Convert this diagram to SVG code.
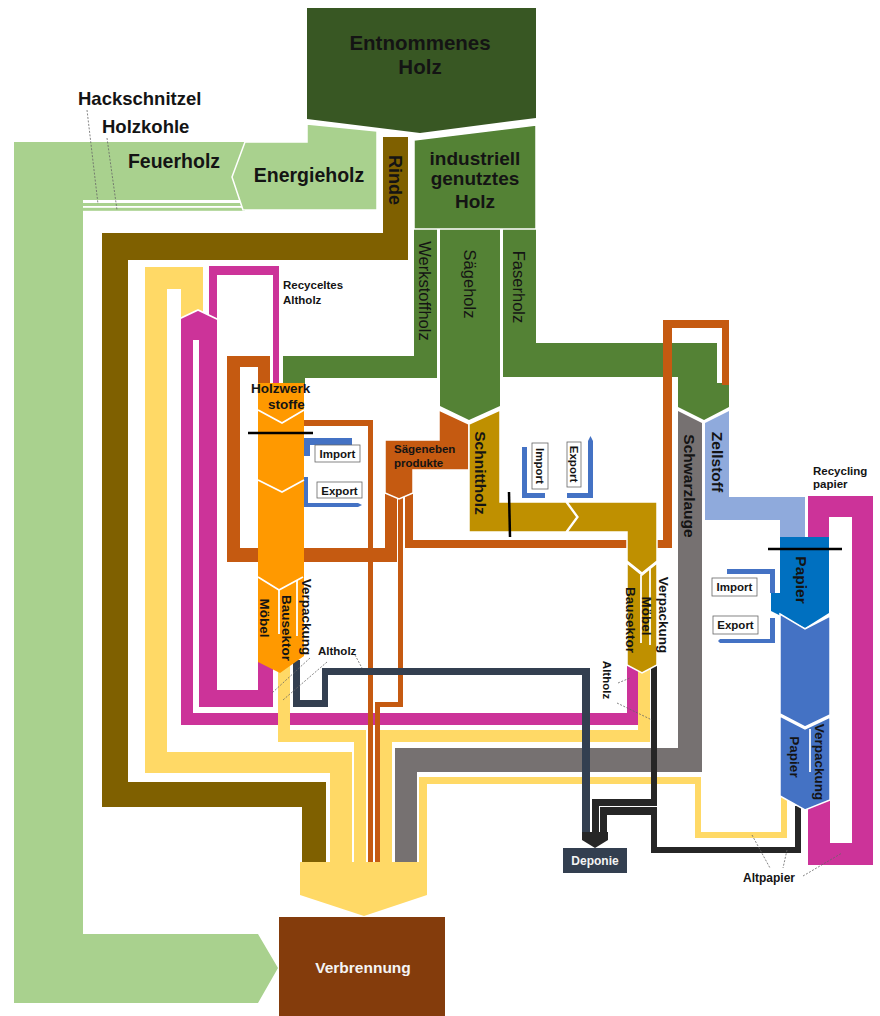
<svg xmlns="http://www.w3.org/2000/svg" width="880" height="1016" viewBox="0 0 880 1016">
<style>
text{font-family:"Liberation Sans",Arial,sans-serif;fill:#141414;font-weight:bold}
.r{font-weight:normal}
.wt{fill:#f4f4f4}
.ws{stroke:#fff;stroke-width:1.5}
.wl{fill:none;stroke:#fff;stroke-width:1.8}
.lead{fill:none;stroke:#666;stroke-width:0.8;stroke-dasharray:2 1.5}
.box{fill:#fff;stroke:#666;stroke-width:0.8}
.cut{stroke:#000;stroke-width:2.5}
.g1{fill:#a9d18e}.g2{fill:#548235}.g3{fill:#385723}
.br{fill:#7f6000}.or{fill:#c55a11}.ye{fill:#ffd966}.ma{fill:#cc3399}
.gr{fill:#767171}.zb{fill:#8faadc}.bl{fill:#4472c4}.nv{fill:#333f50}.bk{fill:#262626}
</style>
<rect width="880" height="1016" fill="#fff"/>

<g id="connectors">
  <path class="g1" d="M14,142 H250 V200 H83 V934 H258 L278,968 L258,1003 H14 Z"/>
  <rect class="g1" x="83" y="203" width="162" height="3"/>
  <rect class="g1" x="83" y="207.8" width="162" height="3"/>
  <path class="g2" d="M414,229 H437 V378 H305 V385 H283 V356 H414 Z"/>
  <path class="g2" d="M440,229 H500 V406 L469,420 L440,406 Z"/>
  <path class="g2" d="M503,229 H536 V343 H717 V383 H729 V407 L704,420 L678,407 V377 H503 Z"/>
  <path class="br" d="M383,137 H408 V260 H128 V782 H326 V864 H302 V807 H102 V233 H383 Z"/>
  <path class="gr" d="M678,411 L702,423 V772 H417 V864 H395 V748 H678 Z"/>
  <path class="zb" d="M705,423 L729,411 V497 H805 V538 H780 V520 H705 Z"/>
  <path class="ma" d="M181,330 H193 V713 H627 V660 H638 V725 H181 Z"/>
  <path class="ma" d="M199,330 H217 V690 H258 V660 H273 V707 H199 Z"/>
  <path class="ye" d="M145,267 H203 V318 H181 V289 H167 V752 H352 V864 H330 V773 H145 Z"/>
  <path class="ye" d="M278,660 H290 V730 H366 V864 H354 V742 H278 Z"/>
  <path class="ye" d="M638,660 H650 V742 H392 V864 H380 V730 H638 Z"/>
  <path class="ye" d="M781,795 H787 V838 H695 V784 H427 V864 H419 V777 H701 V832 H781 Z"/>
  <path class="ma" d="M209,266 H279 V385 H273 V275 H217 V318 H209 Z"/>
  <path class="ma" d="M181,318 L198,310 L217,319 V340 H181 Z"/>
  <polyline class="wl" points="180,318.5 198,310 218,319.5"/>
  <path class="or" d="M227,356 H270 V385 H258 V367 H240 V548 H385 V493 H397 V562 H227 Z"/>
  <path class="or" d="M398,493 H403 V707 H380 V864 H375 V702 H398 Z"/>
  <path class="or" d="M405,493 H413 V540 H663 V320 H729 V385 H722 V328 H672 V548 H405 Z"/>
  <path class="or" d="M300,420 H373 V864 H368 V426 H300 Z"/>
  <path class="nv" d="M293,660 H300 V700 H322 V668 H590 V834 H582 V675 H328 V707 H293 Z"/>
  <path class="bk" d="M651,665 H657 V806 H599 V834 H592 V799 H651 Z"/>
  <path class="bk" d="M795,806 H801 V853 H651 V815 H607 V834 H600 V807 H657 V847 H795 Z"/>
  <path class="ma" d="M808,496 H873 V865 H808 V801 H830 V843 H852 V517 H829 V537 H808 Z"/>
  <path class="bl" d="M352,438 V445 H310 V456 H303 V438 Z"/>
  <path class="bl" d="M303,477 H308 V503 H358 L362,505 L358,507 H303 Z"/>
  <path class="bl" d="M522,447 H527 V493 H545 V498 H522 Z"/>
  <path class="bl" d="M567,493 H588 V441 L590.5,436 L593,441 V498 H567 Z"/>
  <path class="bl" d="M727,569 H775 V593 H770 V574 H727 Z"/>
  <path class="bl" d="M770,618 H775 V643 H720 L718,641 L720,639 H770 Z"/>
</g>

<g id="node-energieholz">
  <path class="g1 ws" d="M245,142 H307 V124 L377,131 V210 H243 L232,177 Z" stroke-width="2"/>
  <text x="309" y="182" font-size="19.5" text-anchor="middle">Energieholz</text>
</g>
<g id="node-feuerholz">
  <text x="174" y="168" font-size="19.5" text-anchor="middle">Feuerholz</text>
  <text x="78" y="105" font-size="18.5">Hackschnitzel</text>
  <text x="102" y="133" font-size="18.5">Holzkohle</text>
  <line class="lead" x1="87" y1="110" x2="98" y2="204"/>
  <line class="lead" x1="107" y1="138" x2="117" y2="210"/>
</g>
<g id="node-entnommenes-holz">
  <path class="g3" d="M307,8 H536 V118 L420,133 L307,119 Z"/>
  <text x="420" y="50" font-size="20.5" text-anchor="middle">Entnommenes</text>
  <text x="420" y="74" font-size="20.5" text-anchor="middle">Holz</text>
</g>
<g id="node-industriell">
  <path class="g2 ws" d="M414,140 L536,125 V229 H414 Z"/>
  <text x="475" y="165" font-size="19" text-anchor="middle">industriell</text>
  <text x="475" y="185" font-size="19" text-anchor="middle">genutztes</text>
  <text x="475" y="208" font-size="19" text-anchor="middle">Holz</text>
</g>
<g id="labels-bands">
  <text transform="translate(395,180) rotate(90)" dy="0.35em" font-size="18" text-anchor="middle">Rinde</text>
  <text class="r" transform="translate(425,291) rotate(90)" dy="0.35em" font-size="16.5" text-anchor="middle">Werkstoffholz</text>
  <text class="r" transform="translate(470,284) rotate(90)" dy="0.35em" font-size="16.5" text-anchor="middle">Sägeholz</text>
  <text class="r" transform="translate(519,287) rotate(90)" dy="0.35em" font-size="16.5" text-anchor="middle">Faserholz</text>
  <text transform="translate(689,486) rotate(90)" dy="0.35em" font-size="15.5" text-anchor="middle">Schwarzlauge</text>
  <text transform="translate(717,462) rotate(90)" dy="0.35em" font-size="15.5" text-anchor="middle">Zellstoff</text>
  <text x="283" y="289" font-size="11.5">Recyceltes</text>
  <text x="283" y="304" font-size="11.5">Altholz</text>
  <text x="813" y="475" font-size="11.5">Recycling</text>
  <text x="813" y="488" font-size="11.5">papier</text>
</g>

<g id="node-holzwerkstoffe">
  <path fill="#ff9900" d="M258,383 H304 V656 L280,673 L258,662 Z"/>
  <polyline class="wl" points="258,410 282,423 304,410"/>
  <polyline class="wl" points="258,480 282,492 304,480"/>
  <polyline class="wl" points="258,577 279,590 303,577"/>
  <line class="wl" x1="279" y1="590" x2="279" y2="634"/>
  <line class="wl" x1="297" y1="580" x2="297" y2="636"/>
  <line class="cut" x1="248" y1="433" x2="313" y2="433"/>
  <text x="251" y="393" font-size="13.5">Holzwerk</text>
  <text x="268" y="409" font-size="13.5">stoffe</text>
  <rect class="box" x="315" y="445" width="45" height="17"/>
  <text x="337.5" y="458" font-size="11.5" text-anchor="middle">Import</text>
  <rect class="box" x="317" y="482" width="45" height="16"/>
  <text x="339.5" y="495" font-size="11.5" text-anchor="middle">Export</text>
  <text transform="translate(265,618) rotate(90)" dy="0.35em" font-size="13.5" text-anchor="middle">Möbel</text>
  <text transform="translate(287,628) rotate(90)" dy="0.35em" font-size="13.5" text-anchor="middle">Bausektor</text>
  <text transform="translate(307,617) rotate(90)" dy="0.35em" font-size="13.5" text-anchor="middle">Verpackung</text>
  <text x="318" y="655" font-size="11.5">Altholz</text>
  <line class="lead" x1="355" y1="655" x2="362" y2="668"/>
  <line class="lead" x1="310" y1="658" x2="272" y2="693"/>
  <line class="lead" x1="327" y1="662" x2="283" y2="700"/>
</g>

<g id="node-saegenebenprodukte">
  <path class="or ws" d="M439,410 L469,424 V470 H413 V493 L399,499 L385,493 V440 H439 Z"/>
  <text x="394" y="453" font-size="11.5">Sägeneben</text>
  <text x="394" y="467" font-size="11.5">produkte</text>
</g>

<g id="node-schnittholz">
  <path fill="#bf9000" class="ws" d="M469,424 L500,410 V502 H566 L577,517 L566,532 H469 Z"/>
  <path fill="#bf9000" class="ws" d="M567,502 H657 V561 L642,573 L627,561 V532 H567 L578,517 Z"/>
  <line class="cut" x1="509" y1="492" x2="510" y2="537"/>
  <text transform="translate(480,473) rotate(90)" dy="0.35em" font-size="15.5" text-anchor="middle">Schnittholz</text>
  <rect class="box" x="532" y="443" width="16" height="46"/>
  <text transform="translate(540,466) rotate(90)" dy="0.35em" font-size="11.5" text-anchor="middle">Import</text>
  <rect class="box" x="567" y="442" width="14" height="45"/>
  <text transform="translate(574,464) rotate(90)" dy="0.35em" font-size="11.5" text-anchor="middle">Export</text>
</g>

<g id="node-verwendung-rechts">
  <path fill="#bf9000" class="ws" d="M627,563 L642,575 L657,563 V665 L642,673 L627,665 Z"/>
  <line class="wl" x1="641" y1="575" x2="641" y2="643"/>
  <line class="wl" x1="650" y1="569" x2="650" y2="645"/>
  <text transform="translate(631,620) rotate(90)" dy="0.35em" font-size="13.5" text-anchor="middle">Bausektor</text>
  <text transform="translate(647,616) rotate(90)" dy="0.35em" font-size="13.5" text-anchor="middle">Möbel</text>
  <text transform="translate(664,615) rotate(90)" dy="0.35em" font-size="13.5" text-anchor="middle">Verpackung</text>
  <text transform="translate(607,680) rotate(90)" dy="0.35em" font-size="11.5" text-anchor="middle">Altholz</text>
  <line class="lead" x1="618" y1="683" x2="630" y2="678"/>
  <line class="lead" x1="617" y1="703" x2="652" y2="720"/>
</g>

<g id="node-papier">
  <path fill="#0070c0" d="M780,537 H829 V613 L805,628 L771,611 V593 H780 Z"/>
  <path class="bl ws" d="M780,614 L805,629 L830,616 V715 L805,727 L780,714 Z"/>
  <path class="bl ws" d="M780,716 L805,729 L830,717 V800 L805,810 L780,796 Z"/>
  <line class="wl" x1="810" y1="729" x2="810" y2="772"/>
  <line class="cut" x1="768" y1="549" x2="842" y2="549"/>
  <text transform="translate(801,580) rotate(90)" dy="0.35em" font-size="15.5" text-anchor="middle">Papier</text>
  <text transform="translate(795,757) rotate(90)" dy="0.35em" font-size="13.5" text-anchor="middle">Papier</text>
  <text transform="translate(820,762) rotate(90)" dy="0.35em" font-size="13.5" text-anchor="middle">Verpackung</text>
  <rect class="box" x="712" y="578" width="45" height="18"/>
  <text x="734.5" y="591" font-size="11.5" text-anchor="middle">Import</text>
  <rect class="box" x="713" y="616" width="45" height="18"/>
  <text x="735.5" y="629" font-size="11.5" text-anchor="middle">Export</text>
  <text x="769" y="882" font-size="12" text-anchor="middle">Altpapier</text>
  <line class="lead" x1="752" y1="835" x2="770" y2="868"/>
  <line class="lead" x1="787" y1="850" x2="783" y2="868"/>
  <line class="lead" x1="803" y1="876" x2="842" y2="853"/>
</g>

<g id="node-deponie">
  <path class="bk" d="M582,832 H608 V840 L595,848 L582,840 Z"/>
  <rect class="nv" x="563" y="848" width="64" height="25"/>
  <text class="wt" x="595" y="865" font-size="12" text-anchor="middle">Deponie</text>
</g>

<g id="node-verbrennung">
  <path class="ye" d="M300,862 H427 V895 L364,916 L300,895 Z"/>
  <rect fill="#843c0c" x="279" y="917" width="166" height="99"/>
  <text class="wt" x="363" y="973" font-size="15.5" text-anchor="middle">Verbrennung</text>
</g>
</svg>
